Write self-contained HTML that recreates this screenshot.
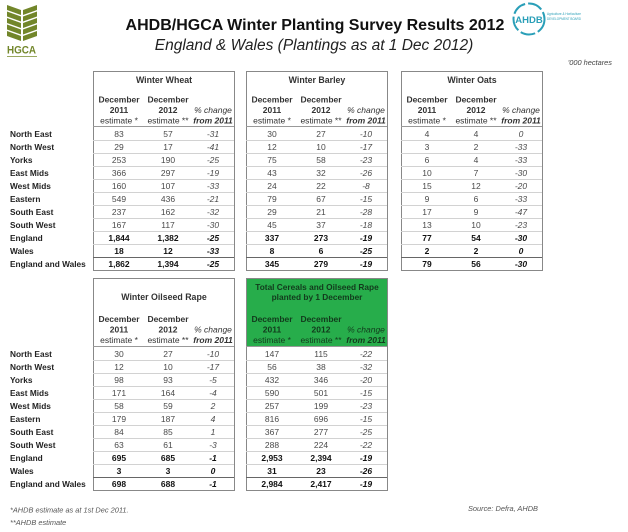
<!DOCTYPE html>
<html><head><meta charset="utf-8">
<style>
html,body{margin:0;padding:0;background:#fff;}
svg{display:block}
text{font-family:"Liberation Sans",Arial,sans-serif;font-size:8.5px;fill:#4a4a4a}
.t text{text-anchor:middle}
.b{font-weight:bold;fill:#111}
.i{font-style:italic}
.h{font-weight:bold;fill:#333}
.hr{fill:#333}
.l text{font-weight:bold;fill:#222;font-size:8.3px}
.g text{fill:#123a1c}
</style></head>
<body>
<svg width="628" height="532" viewBox="0 0 628 532" xmlns="http://www.w3.org/2000/svg">
<defs>
<g id="rl">
<path d="M0 140.5h141M0 153.5h141M0 166.5h141M0 179.5h141M0 192.5h141M0 205.5h141M0 218.5h141M0 231.5h141M0 244.5h141" stroke="#d2d2d2" fill="none"/>
<path d="M0 257.5h141" stroke="#666" fill="none"/>
</g>
</defs>

<!-- HGCA logo -->
<g fill="#72862a">
<polygon points="7,5 21,10 21,15 7,10"/><polygon points="7,11.5 21,16.5 21,21.5 7,16.5"/><polygon points="7,18 21,23 21,28 7,23"/><polygon points="7,24.5 21,29.5 21,34.5 7,29.5"/><polygon points="7,31 21,36 21,41 7,36"/>
<polygon points="23,10 37,5 37,10 23,15"/><polygon points="23,16.5 37,11.5 37,16.5 23,21.5"/><polygon points="23,23 37,18 37,23 23,28"/><polygon points="23,29.5 37,24.5 37,29.5 23,34.5"/><polygon points="23,36 37,31 37,36 23,41"/>
<rect x="7" y="56" width="30" height="1" fill="#9aa860"/>
</g>
<text x="7" y="53.5" textLength="29" lengthAdjust="spacingAndGlyphs" style="font-weight:bold;font-size:11px;fill:#72862a">HGCA</text>

<!-- Titles -->
<text x="315" y="30" text-anchor="middle" style="font-size:16px;font-weight:bold;fill:#111">AHDB/HGCA Winter Planting Survey Results 2012</text>
<text x="314" y="50" text-anchor="middle" style="font-size:15.5px;font-style:italic;fill:#222">England &amp; Wales (Plantings as at 1 Dec 2012)</text>

<!-- AHDB logo -->
<circle cx="529" cy="19" r="15.5" fill="none" stroke="#2a9fb8" stroke-width="2" stroke-dasharray="15 3"/>
<text x="529" y="23" text-anchor="middle" style="font-size:9.5px;font-weight:bold;fill:#2a9fb8">AHDB</text>
<text x="547" y="15" textLength="34" lengthAdjust="spacingAndGlyphs" style="font-size:4px;fill:#2a9fb8">Agriculture &amp; Horticulture</text>
<text x="547" y="20" textLength="34" lengthAdjust="spacingAndGlyphs" style="font-size:4px;fill:#2a9fb8">DEVELOPMENT BOARD</text>

<text x="612" y="65" text-anchor="end" style="font-size:7.4px;font-style:italic;fill:#444">'000 hectares</text>

<!-- Row labels top -->
<g class="l">
<text x="10" y="137">North East</text><text x="10" y="150">North West</text><text x="10" y="163">Yorks</text><text x="10" y="176">East Mids</text><text x="10" y="189">West Mids</text><text x="10" y="202">Eastern</text><text x="10" y="215">South East</text><text x="10" y="228">South West</text><text x="10" y="241">England</text><text x="10" y="254">Wales</text><text x="10" y="267">England and Wales</text>
</g>
<g class="l" transform="translate(0,220)">
<text x="10" y="137">North East</text><text x="10" y="150">North West</text><text x="10" y="163">Yorks</text><text x="10" y="176">East Mids</text><text x="10" y="189">West Mids</text><text x="10" y="202">Eastern</text><text x="10" y="215">South East</text><text x="10" y="228">South West</text><text x="10" y="241">England</text><text x="10" y="254">Wales</text><text x="10" y="267">England and Wales</text>
</g>

<!-- Winter Wheat -->
<g class="t" transform="translate(93,0)">
<rect x=".5" y="71.5" width="141" height="199" fill="none" stroke="#888"/>
<path d="M0 126.5h141" stroke="#999"/>
<use href="#rl"/>
<text class="h" x="71" y="83" style="font-size:8.8px">Winter Wheat</text>
<text class="h" x="26" y="102.5">December</text><text class="h" x="75" y="102.5">December</text>
<text class="h" x="26" y="113">2011</text><text class="h" x="75" y="113">2012</text><text class="i hr" x="120" y="113">% change</text>
<text class="hr" x="26" y="123.5">estimate *</text><text class="hr" x="75" y="123.5">estimate **</text><text class="i h" x="120" y="123.5">from 2011</text>
<text x="26" y="137">83</text><text x="75" y="137">57</text><text class="i" x="120" y="137">-31</text>
<text x="26" y="150">29</text><text x="75" y="150">17</text><text class="i" x="120" y="150">-41</text>
<text x="26" y="163">253</text><text x="75" y="163">190</text><text class="i" x="120" y="163">-25</text>
<text x="26" y="176">366</text><text x="75" y="176">297</text><text class="i" x="120" y="176">-19</text>
<text x="26" y="189">160</text><text x="75" y="189">107</text><text class="i" x="120" y="189">-33</text>
<text x="26" y="202">549</text><text x="75" y="202">436</text><text class="i" x="120" y="202">-21</text>
<text x="26" y="215">237</text><text x="75" y="215">162</text><text class="i" x="120" y="215">-32</text>
<text x="26" y="228">167</text><text x="75" y="228">117</text><text class="i" x="120" y="228">-30</text>
<text class="b" x="26" y="241">1,844</text><text class="b" x="75" y="241">1,382</text><text class="b i" x="120" y="241">-25</text>
<text class="b" x="26" y="254">18</text><text class="b" x="75" y="254">12</text><text class="b i" x="120" y="254">-33</text>
<text class="b" x="26" y="267">1,862</text><text class="b" x="75" y="267">1,394</text><text class="b i" x="120" y="267">-25</text>
</g>

<!-- Winter Barley -->
<g class="t" transform="translate(246,0)">
<rect x=".5" y="71.5" width="141" height="199" fill="none" stroke="#888"/>
<path d="M0 126.5h141" stroke="#999"/>
<use href="#rl"/>
<text class="h" x="71" y="83" style="font-size:8.8px">Winter Barley</text>
<text class="h" x="26" y="102.5">December</text><text class="h" x="75" y="102.5">December</text>
<text class="h" x="26" y="113">2011</text><text class="h" x="75" y="113">2012</text><text class="i hr" x="120" y="113">% change</text>
<text class="hr" x="26" y="123.5">estimate *</text><text class="hr" x="75" y="123.5">estimate **</text><text class="i h" x="120" y="123.5">from 2011</text>
<text x="26" y="137">30</text><text x="75" y="137">27</text><text class="i" x="120" y="137">-10</text>
<text x="26" y="150">12</text><text x="75" y="150">10</text><text class="i" x="120" y="150">-17</text>
<text x="26" y="163">75</text><text x="75" y="163">58</text><text class="i" x="120" y="163">-23</text>
<text x="26" y="176">43</text><text x="75" y="176">32</text><text class="i" x="120" y="176">-26</text>
<text x="26" y="189">24</text><text x="75" y="189">22</text><text class="i" x="120" y="189">-8</text>
<text x="26" y="202">79</text><text x="75" y="202">67</text><text class="i" x="120" y="202">-15</text>
<text x="26" y="215">29</text><text x="75" y="215">21</text><text class="i" x="120" y="215">-28</text>
<text x="26" y="228">45</text><text x="75" y="228">37</text><text class="i" x="120" y="228">-18</text>
<text class="b" x="26" y="241">337</text><text class="b" x="75" y="241">273</text><text class="b i" x="120" y="241">-19</text>
<text class="b" x="26" y="254">8</text><text class="b" x="75" y="254">6</text><text class="b i" x="120" y="254">-25</text>
<text class="b" x="26" y="267">345</text><text class="b" x="75" y="267">279</text><text class="b i" x="120" y="267">-19</text>
</g>

<!-- Winter Oats -->
<g class="t" transform="translate(401,0)">
<rect x=".5" y="71.5" width="141" height="199" fill="none" stroke="#888"/>
<path d="M0 126.5h141" stroke="#999"/>
<use href="#rl"/>
<text class="h" x="71" y="83" style="font-size:8.8px">Winter Oats</text>
<text class="h" x="26" y="102.5">December</text><text class="h" x="75" y="102.5">December</text>
<text class="h" x="26" y="113">2011</text><text class="h" x="75" y="113">2012</text><text class="i hr" x="120" y="113">% change</text>
<text class="hr" x="26" y="123.5">estimate *</text><text class="hr" x="75" y="123.5">estimate **</text><text class="i h" x="120" y="123.5">from 2011</text>
<text x="26" y="137">4</text><text x="75" y="137">4</text><text class="i" x="120" y="137">0</text>
<text x="26" y="150">3</text><text x="75" y="150">2</text><text class="i" x="120" y="150">-33</text>
<text x="26" y="163">6</text><text x="75" y="163">4</text><text class="i" x="120" y="163">-33</text>
<text x="26" y="176">10</text><text x="75" y="176">7</text><text class="i" x="120" y="176">-30</text>
<text x="26" y="189">15</text><text x="75" y="189">12</text><text class="i" x="120" y="189">-20</text>
<text x="26" y="202">9</text><text x="75" y="202">6</text><text class="i" x="120" y="202">-33</text>
<text x="26" y="215">17</text><text x="75" y="215">9</text><text class="i" x="120" y="215">-47</text>
<text x="26" y="228">13</text><text x="75" y="228">10</text><text class="i" x="120" y="228">-23</text>
<text class="b" x="26" y="241">77</text><text class="b" x="75" y="241">54</text><text class="b i" x="120" y="241">-30</text>
<text class="b" x="26" y="254">2</text><text class="b" x="75" y="254">2</text><text class="b i" x="120" y="254">0</text>
<text class="b" x="26" y="267">79</text><text class="b" x="75" y="267">56</text><text class="b i" x="120" y="267">-30</text>
</g>

<!-- Winter Oilseed Rape -->
<g class="t" transform="translate(93,0)">
<rect x=".5" y="278.5" width="141" height="212" fill="none" stroke="#888"/>
<path d="M0 346.5h141" stroke="#999"/>
<use href="#rl" transform="translate(0,220)"/>
<text class="h" x="71" y="300" style="font-size:8.8px">Winter Oilseed Rape</text>
<text class="h" x="26" y="322">December</text><text class="h" x="75" y="322">December</text>
<text class="h" x="26" y="332.5">2011</text><text class="h" x="75" y="332.5">2012</text><text class="i hr" x="120" y="332.5">% change</text>
<text class="hr" x="26" y="343">estimate *</text><text class="hr" x="75" y="343">estimate **</text><text class="i h" x="120" y="343">from 2011</text>
<g transform="translate(0,220)">
<text x="26" y="137">30</text><text x="75" y="137">27</text><text class="i" x="120" y="137">-10</text>
<text x="26" y="150">12</text><text x="75" y="150">10</text><text class="i" x="120" y="150">-17</text>
<text x="26" y="163">98</text><text x="75" y="163">93</text><text class="i" x="120" y="163">-5</text>
<text x="26" y="176">171</text><text x="75" y="176">164</text><text class="i" x="120" y="176">-4</text>
<text x="26" y="189">58</text><text x="75" y="189">59</text><text class="i" x="120" y="189">2</text>
<text x="26" y="202">179</text><text x="75" y="202">187</text><text class="i" x="120" y="202">4</text>
<text x="26" y="215">84</text><text x="75" y="215">85</text><text class="i" x="120" y="215">1</text>
<text x="26" y="228">63</text><text x="75" y="228">61</text><text class="i" x="120" y="228">-3</text>
<text class="b" x="26" y="241">695</text><text class="b" x="75" y="241">685</text><text class="b i" x="120" y="241">-1</text>
<text class="b" x="26" y="254">3</text><text class="b" x="75" y="254">3</text><text class="b i" x="120" y="254">0</text>
<text class="b" x="26" y="267">698</text><text class="b" x="75" y="267">688</text><text class="b i" x="120" y="267">-1</text>
</g>
</g>

<!-- Total Cereals and OSR -->
<g class="t" transform="translate(246,0)">
<rect x=".5" y="278.5" width="141" height="68" fill="#27ad4b"/>
<rect x=".5" y="278.5" width="141" height="212" fill="none" stroke="#888"/>
<path d="M0 346.5h141" stroke="#999"/>
<use href="#rl" transform="translate(0,220)"/>
<g class="g">
<text class="h" x="71" y="290" style="font-size:8.3px;fill:#123a1c">Total Cereals and Oilseed Rape</text>
<text class="h" x="71" y="300" style="font-size:8.3px;fill:#123a1c">planted by 1 December</text>
<text class="h" x="26" y="322">December</text><text class="h" x="75" y="322">December</text>
<text class="h" x="26" y="332.5">2011</text><text class="h" x="75" y="332.5">2012</text><text class="i" x="120" y="332.5">% change</text>
<text x="26" y="343">estimate *</text><text x="75" y="343">estimate **</text><text class="i h" x="120" y="343">from 2011</text>
</g>
<g transform="translate(0,220)">
<text x="26" y="137">147</text><text x="75" y="137">115</text><text class="i" x="120" y="137">-22</text>
<text x="26" y="150">56</text><text x="75" y="150">38</text><text class="i" x="120" y="150">-32</text>
<text x="26" y="163">432</text><text x="75" y="163">346</text><text class="i" x="120" y="163">-20</text>
<text x="26" y="176">590</text><text x="75" y="176">501</text><text class="i" x="120" y="176">-15</text>
<text x="26" y="189">257</text><text x="75" y="189">199</text><text class="i" x="120" y="189">-23</text>
<text x="26" y="202">816</text><text x="75" y="202">696</text><text class="i" x="120" y="202">-15</text>
<text x="26" y="215">367</text><text x="75" y="215">277</text><text class="i" x="120" y="215">-25</text>
<text x="26" y="228">288</text><text x="75" y="228">224</text><text class="i" x="120" y="228">-22</text>
<text class="b" x="26" y="241">2,953</text><text class="b" x="75" y="241">2,394</text><text class="b i" x="120" y="241">-19</text>
<text class="b" x="26" y="254">31</text><text class="b" x="75" y="254">23</text><text class="b i" x="120" y="254">-26</text>
<text class="b" x="26" y="267">2,984</text><text class="b" x="75" y="267">2,417</text><text class="b i" x="120" y="267">-19</text>
</g>
</g>

<!-- Footer -->
<text x="10" y="512.5" style="font-size:7.4px;font-style:italic;fill:#555">*AHDB estimate as at 1st Dec 2011.</text>
<text x="10" y="525" style="font-size:7.4px;font-style:italic;fill:#555">**AHDB estimate</text>
<text x="468" y="511" style="font-size:7.4px;font-style:italic;fill:#555">Source: Defra, AHDB</text>
</svg>
</body></html>
